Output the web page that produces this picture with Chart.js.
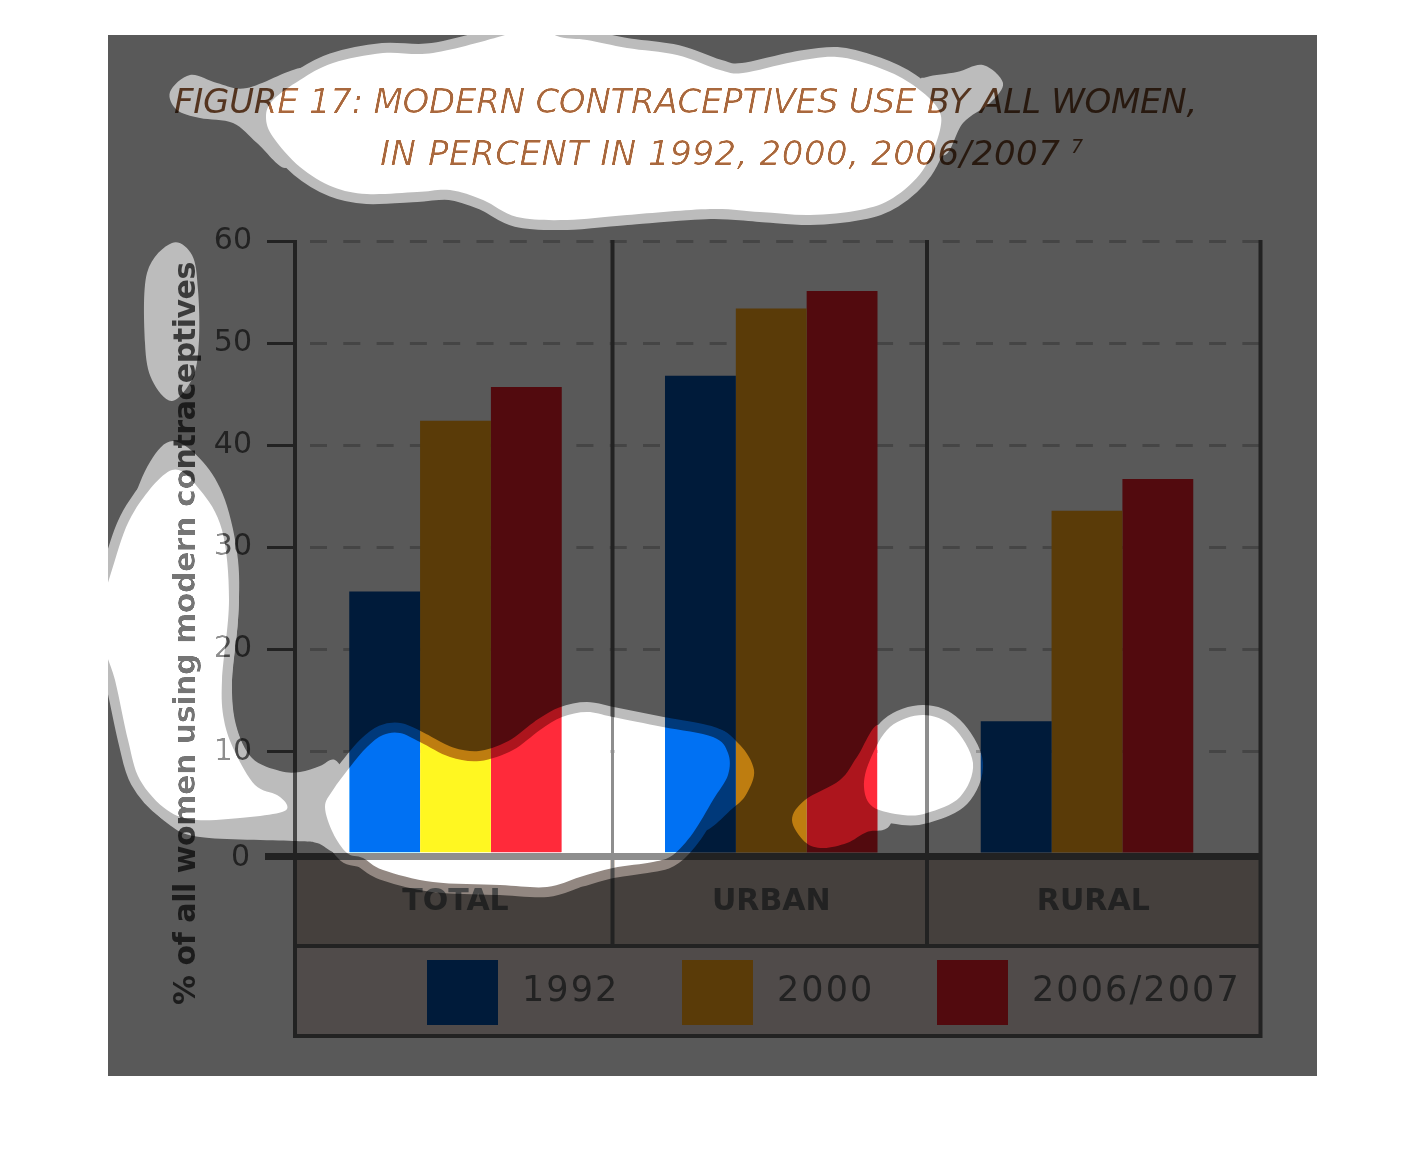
<!DOCTYPE html>
<html lang="en">
<head>
  <meta charset="UTF-8" />
  <title>Figure 17</title>
  <script src="https://cdn.jsdelivr.net/npm/chart.js"></script>
  <style>
    html, body { margin: 0; padding: 0; background: #fff; }
    canvas { display: block; }
  </style>
</head>
<body>
  <canvas id="chart" width="1426" height="1170"></canvas>
  <script>
    // data
    const categories = ['TOTAL', 'URBAN', 'RURAL'];
    const years = ['1992', '2000', '2006/2007'];
    const values1992 = [25.7, 46.8, 13.0];
    const values2000 = [42.4, 53.4, 33.6];
    const values2006 = [45.7, 55.1, 36.7];
    const yTicks = [0, 10, 20, 30, 40, 50, 60];
    const colors = ['#001b3a', '#5a3b08', '#520a0e'];

    const titleLine1 = 'FIGURE 17: MODERN CONTRACEPTIVES USE BY ALL WOMEN,';
    const titleLine2 = 'IN PERCENT IN 1992, 2000, 2006/2007';
    const yTitle = '% of all women using modern contraceptives';

    const INK = '#222222';
    const PANEL = { x: 108, y: 35, w: 1209, h: 1041 };

    // spotlight shapes laid over the finished chart (page pixels, not data)
    const holes = [
      [[530,25],[505,35],[433,53],[383,53],[333,63],[300,80],[273,100],[266,117],[273,137],[300,167],[333,187],[367,194],[417,192],[450,190],[483,200],[517,217],[567,220],[627,215],[710,209],[760,212],[810,215],[860,210],[893,198],[923,170],[940,130],[937,107],[910,83],[877,67],[837,57],[793,62],[743,73],[720,70],[677,55],[627,48],[587,40],[560,37]],
      [[172,470],[200,490],[222,530],[229,600],[222,680],[224,720],[235,752],[255,785],[277,795],[287,805],[282,812],[250,817],[197,820],[167,810],[140,780],[128,740],[115,680],[100,625],[115,560],[135,510]],
      [[325,807],[333,790],[350,767],[367,747],[383,735],[400,733],[420,742],[450,757],[480,761],[513,750],[540,730],[562,717],[587,712],[613,717],[663,727],[713,737],[728,753],[728,775],[713,800],[693,833],[673,855],[653,862],[613,868],[580,877],[547,887],[500,885],[433,882],[383,870],[363,858],[347,853],[333,833]],
      [[923,715],[953,727],[973,763],[960,797],[927,813],[903,815],[873,807],[864,787],[870,760],[890,727]]
    ];
    const rings = [
      [[190,75],[217,83],[247,88],[300,68],[325,75],[315,125],[300,145],[285,168],[257,143],[233,123],[200,118],[177,110],[170,92]],
      [[983,65],[1003,83],[990,103],[963,123],[945,155],[920,140],[920,85],[927,77],[957,72]],
      [[172,243],[192,255],[198,290],[199,340],[193,377],[172,401],[152,380],[145,343],[147,273]],
      [[173,441],[203,462],[225,500],[238,560],[238,620],[232,680],[236,725],[252,758],[280,771],[300,772],[320,766],[335,760],[350,780],[370,800],[345,850],[333,852],[317,843],[293,841],[200,837],[167,823],[143,797],[133,770],[123,737],[108,680],[90,625],[108,585],[130,510],[150,462]],
      [[715,730],[740,745],[754,770],[747,793],[733,808],[700,830],[690,770]],
      [[880,725],[857,757],[840,780],[805,800],[792,820],[805,842],[823,848],[847,843],[867,832],[890,825],[900,780]]
    ];

    function blobPath(pts) {
      const p = new Path2D();
      const n = pts.length;
      p.moveTo(pts[0][0], pts[0][1]);
      for (let i = 0; i < n; i++) {
        const a = pts[(i - 1 + n) % n], b = pts[i], c = pts[(i + 1) % n], d = pts[(i + 2) % n];
        p.bezierCurveTo(b[0] + (c[0] - a[0]) / 6, b[1] + (c[1] - a[1]) / 6,
                        c[0] - (d[0] - b[0]) / 6, c[1] - (d[1] - b[1]) / 6, c[0], c[1]);
      }
      p.closePath();
      return p;
    }

    function layer(src, k, paintMask) {
      const mask = document.createElement('canvas');
      mask.width = src.width; mask.height = src.height;
      const m = mask.getContext('2d');
      m.fillStyle = m.strokeStyle = '#000';
      paintMask(m);
      const off = document.createElement('canvas');
      off.width = src.width; off.height = src.height;
      const o = off.getContext('2d');
      o.filter = 'brightness(' + k + ')';
      o.drawImage(src, 0, 0);
      o.filter = 'none';
      o.globalCompositeOperation = 'destination-in';
      o.drawImage(mask, 0, 0);
      return off;
    }

    function line(ctx, x1, y1, x2, y2, w) {
      ctx.strokeStyle = INK;
      ctx.lineWidth = w;
      ctx.beginPath();
      ctx.moveTo(x1, y1);
      ctx.lineTo(x2, y2);
      ctx.stroke();
    }

    const furniture = {
      id: 'furniture',
      beforeDraw(chart) {
        const ctx = chart.ctx;
        ctx.save();
        ctx.fillStyle = '#fff';
        ctx.fillRect(0, 0, chart.width, chart.height);
        ctx.fillStyle = '#595959';
        ctx.fillRect(PANEL.x, PANEL.y, PANEL.w, PANEL.h);
        ctx.fillStyle = '#45403d';
        ctx.fillRect(295, 856, 965, 90);
        ctx.fillStyle = '#504b4a';
        ctx.fillRect(295, 946, 965, 90);
        ctx.restore();
      },
      afterDraw(chart) {
        const ctx = chart.ctx;
        ctx.save();

        // frame
        line(ctx, 295, 240, 295, 1038, 4);
        line(ctx, 612.5, 240, 612.5, 946, 4);
        line(ctx, 927, 240, 927, 946, 4);
        line(ctx, 1260.5, 240, 1260.5, 1038, 4);
        line(ctx, 265, 856.5, 1262, 856.5, 7);
        line(ctx, 295, 946, 1262, 946, 4);
        line(ctx, 295, 1036, 1262, 1036, 4);

        // zero label sits on the thick base line
        ctx.fillStyle = INK;
        ctx.font = '30px "DejaVu Sans"';
        ctx.textAlign = 'right';
        ctx.textBaseline = 'middle';
        ctx.fillText('0', 250, 858);

        // title
        ctx.fillStyle = '#28190f';
        ctx.textAlign = 'left';
        ctx.textBaseline = 'alphabetic';
        ctx.font = 'italic 34px "DejaVu Sans"';
        ctx.letterSpacing = '-0.25px';
        ctx.fillText(titleLine1, 174, 113);
        ctx.letterSpacing = '0.55px';
        ctx.fillText(titleLine2, 380, 165);
        ctx.letterSpacing = '0px';
        ctx.font = 'italic 19px "DejaVu Sans"';
        ctx.fillText('7', 1071, 153);

        // y axis title
        ctx.save();
        ctx.translate(195, 1005);
        ctx.rotate(-Math.PI / 2);
        ctx.fillStyle = '#1c1c1c';
        ctx.font = 'bold 30px "DejaVu Sans"';
        ctx.letterSpacing = '-0.45px';
        ctx.fillText(yTitle, 0, 0);
        ctx.restore();

        // legend
        const boxX = [427, 682, 937];
        ctx.font = '35px "DejaVu Sans"';
        ctx.letterSpacing = '2.1px';
        ctx.textBaseline = 'middle';
        chart.data.datasets.forEach((ds, i) => {
          ctx.fillStyle = ds.backgroundColor;
          ctx.fillRect(boxX[i], 960, 71, 65);
          ctx.fillStyle = INK;
          ctx.fillText(ds.label, boxX[i] + 95, 992);
        });
        ctx.letterSpacing = '0px';
        ctx.restore();

        // spotlights: brighten the finished picture inside the shapes
        const src = document.createElement('canvas');
        src.width = chart.canvas.width; src.height = chart.canvas.height;
        src.getContext('2d').drawImage(chart.canvas, 0, 0);
        const ringLayer = layer(src, 2.12, m => {
          m.lineWidth = 20;
          m.lineJoin = 'round';
          holes.forEach(h => { const p = blobPath(h); m.fill(p); m.stroke(p); });
          rings.forEach(r => m.fill(blobPath(r)));
        });
        const holeLayer = layer(src, 4.2, m => holes.forEach(h => m.fill(blobPath(h))));
        ctx.save();
        ctx.beginPath();
        ctx.rect(PANEL.x, PANEL.y, PANEL.w, PANEL.h);
        ctx.clip();
        ctx.drawImage(ringLayer, 0, 0);
        ctx.drawImage(holeLayer, 0, 0);
        ctx.restore();
      }
    };

    const asPoints = arr => arr.map((y, i) => ({ x: i, y }));

    new Chart(document.getElementById('chart'), {
      type: 'bar',
      data: {
        datasets: [
          { label: years[0], data: asPoints(values1992), backgroundColor: colors[0] },
          { label: years[1], data: asPoints(values2000), backgroundColor: colors[1] },
          { label: years[2], data: asPoints(values2006), backgroundColor: colors[2] }
        ]
      },
      options: {
        responsive: false,
        devicePixelRatio: 1,
        animation: false,
        events: [],
        categoryPercentage: 0.673,
        barPercentage: 1,
        layout: { padding: { left: 165, right: 166, top: 241, bottom: 251 } },
        plugins: { legend: { display: false }, title: { display: false }, tooltip: { enabled: false } },
        scales: {
          x: {
            type: 'linear',
            offset: false,
            min: -0.5083,
            max: 2.5479,
            afterBuildTicks: s => { s.ticks = [0, 1, 2.02].map(value => ({ value })); },
            afterFit: s => { s.height = 65; },
            grid: { display: false, offset: false },
            border: { display: false },
            ticks: {
              callback: (v, i) => categories[i],
              autoSkip: false,
              maxRotation: 0,
              padding: 22,
              color: INK,
              font: { family: '"DejaVu Sans"', size: 30, weight: 'bold' }
            }
          },
          y: {
            min: 0,
            max: 60,
            afterBuildTicks: s => { s.ticks = yTicks.map(value => ({ value })); },
            afterFit: s => { s.width = 130; },
            border: { display: false, dash: [17, 16.3], dashOffset: 18.3 },
            grid: {
              lineWidth: 3,
              tickLength: 28,
              tickWidth: 3,
              color: c => c.tick && c.tick.value === 0 ? 'transparent' : '#454545',
              tickColor: c => c.tick && c.tick.value === 0 ? 'transparent' : INK,
              tickBorderDash: []
            },
            ticks: {
              callback: v => v === 0 ? '' : String(v),
              padding: 15,
              color: INK,
              font: { family: '"DejaVu Sans"', size: 30 }
            }
          }
        }
      },
      plugins: [furniture]
    });
  </script>
</body>
</html>
